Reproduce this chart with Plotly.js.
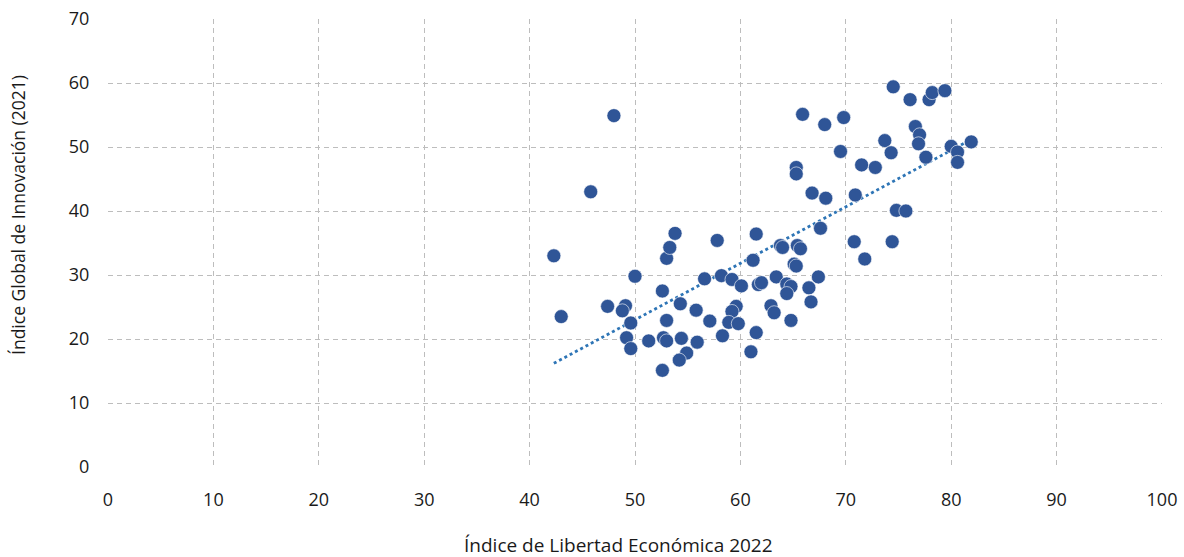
<!DOCTYPE html>
<html>
<head>
<meta charset="utf-8">
<script src="https://cdn.plot.ly/plotly-3.0.1.min.js"></script>
<style>html,body{margin:0;padding:0;background:#fff;}#chart{width:1184px;height:557px;}</style>
</head>
<body>
<div id="chart"></div>
<script>
// Índice de Libertad Económica 2022
const libertad = [42.3,43.0,45.8,48.0,47.4,49.1,48.8,50.0,49.6,49.2,49.6,51.3,52.6,53.0,53.3,53.8,53.0,52.7,53.0,52.6,
  54.3,54.4,54.9,54.2,55.8,55.9,56.6,57.8,57.1,58.2,58.3,59.2,60.1,59.6,59.2,58.9,59.8,61.0,61.5,61.2,
  61.5,61.7,62.0,62.9,63.2,63.4,63.8,64.0,64.4,64.8,64.4,64.8,65.1,65.3,65.4,65.7,65.3,65.3,65.9,66.5,
  66.7,67.4,66.8,67.6,68.1,68.0,69.5,69.8,70.8,70.9,71.5,71.8,72.8,73.7,74.3,74.4,74.5,74.8,75.7,76.1,
  76.6,77.0,76.9,77.6,77.9,78.2,79.4,80.0,80.6,80.6,81.9];
// Índice Global de Innovación (2021)
const innovacion = [33.0,23.5,43.0,54.9,25.1,25.2,24.4,29.8,22.5,20.2,18.5,19.7,27.5,32.6,34.3,36.5,22.9,20.2,19.7,15.1,
  25.5,20.1,17.8,16.7,24.5,19.5,29.4,35.4,22.8,29.9,20.5,29.3,28.3,25.1,24.3,22.6,22.4,18.0,21.0,32.3,
  36.4,28.5,28.8,25.2,24.1,29.7,34.6,34.3,28.6,28.2,27.1,22.9,31.7,31.4,34.6,34.1,46.8,45.8,55.1,28.0,
  25.8,29.7,42.8,37.3,42.0,53.5,49.3,54.6,35.2,42.5,47.2,32.5,46.8,51.0,49.1,35.2,59.4,40.1,40.0,57.4,
  53.2,51.9,50.5,48.4,57.4,58.5,58.8,50.1,49.2,47.6,50.8];
const xTicks = [0,10,20,30,40,50,60,70,80,90,100];
const yTicks = [0,10,20,30,40,50,60,70];
const xTitle = 'Índice de Libertad Económica 2022';
const yTitle = 'Índice Global de Innovación (2021)';

// Linear trend (least squares)
const n = libertad.length;
const mx = libertad.reduce((a,b)=>a+b,0)/n;
const my = innovacion.reduce((a,b)=>a+b,0)/n;
let sxy=0, sxx=0;
for (let i=0;i<n;i++){ sxy += (libertad[i]-mx)*(innovacion[i]-my); sxx += (libertad[i]-mx)**2; }
const slope = sxy/sxx, icpt = my - slope*mx;
const xmin = Math.min(...libertad), xmax = Math.max(...libertad);
const trendX = [xmin, xmax];
const trendY = trendX.map(v => icpt + slope*v);

const font = "'Open Sans', 'DejaVu Sans', sans-serif";
const traces = [
  {x: trendX, y: trendY, mode: 'lines', type: 'scatter', hoverinfo: 'skip',
   line: {color: '#2E75B6', width: 2.8, dash: 'dot'}},
  {x: libertad, y: innovacion, mode: 'markers', type: 'scatter',
   marker: {size: 14, color: '#2F5597', line: {width: 0.6, color: '#ffffff'}}}
];
const grid = {showgrid: true, gridcolor: '#BDBDBD', gridwidth: 1, griddash: '5px,4px', zeroline: false, showline: false,
  ticks: 'outside', tickcolor: 'rgba(0,0,0,0)'};
const layout = {
  width: 1184, height: 557,
  margin: {l: 108, r: 22, t: 19, b: 90},
  paper_bgcolor: '#ffffff', plot_bgcolor: '#ffffff',
  showlegend: false,
  font: {family: font, color: '#000000', size: 18},
  xaxis: Object.assign({}, grid, {range: [0, 100], tickvals: xTicks, ticktext: xTicks.map(String),
    ticklen: 16, tickfont: {size: 18, color: '#1a1a1a'}}),
  yaxis: Object.assign({}, grid, {range: [0, 70], tickvals: yTicks, ticktext: yTicks.map(String),
    ticklen: 14, tickfont: {size: 18, color: '#1a1a1a'}}),
  annotations: [
    {text: xTitle, xref: 'paper', yref: 'paper', x: 0.4839, y: -0.174, xanchor: 'center', yanchor: 'middle',
     showarrow: false, font: {size: 19, color: '#1a1a1a'}},
    {text: yTitle, xref: 'paper', yref: 'paper', x: -0.0854, y: 0.5625, xanchor: 'center', yanchor: 'middle',
     textangle: -90, showarrow: false, font: {size: 17.5, color: '#1a1a1a'}}
  ]
};
Plotly.newPlot('chart', traces, layout, {displayModeBar: false, staticPlot: true});
</script>
</body>
</html>
